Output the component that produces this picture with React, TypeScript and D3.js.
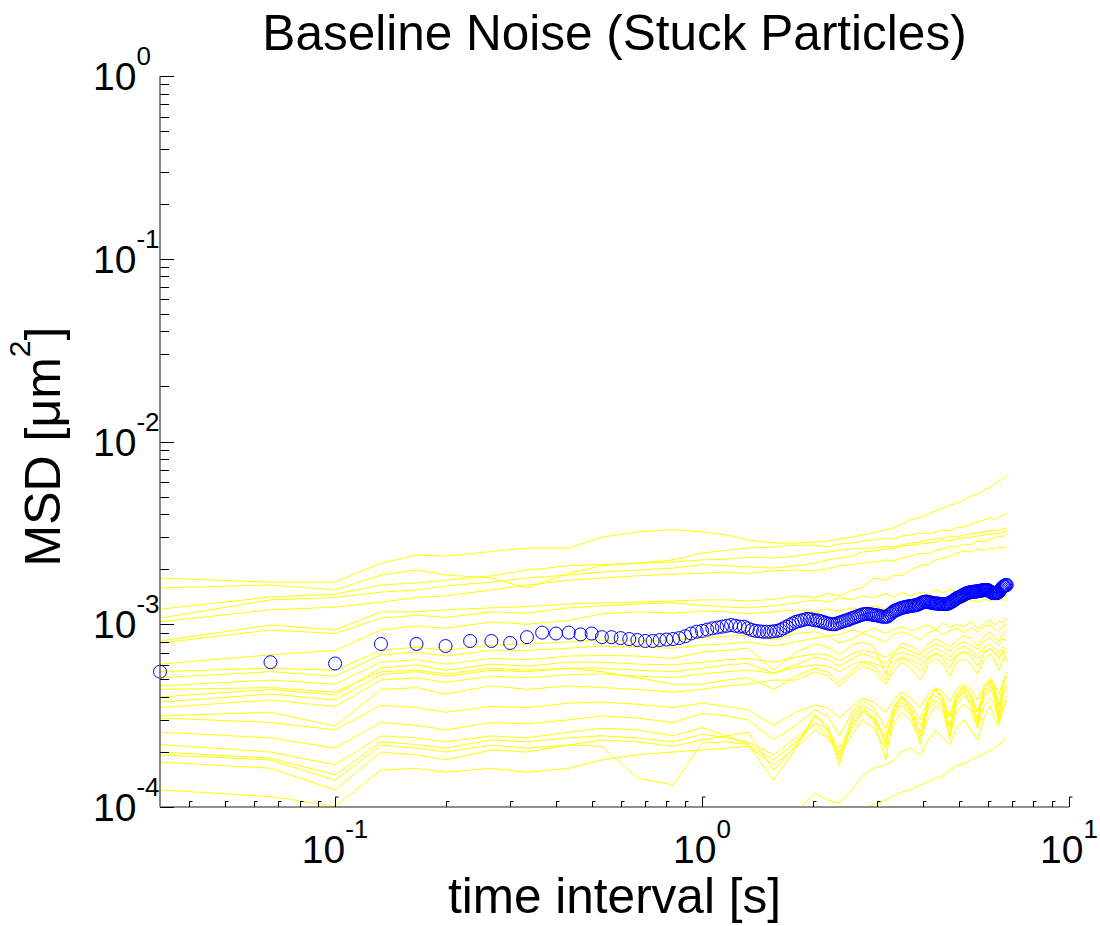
import React from "react";
import * as d3 from "d3";

// lag times are in frames, the camera ran at 30 frames per second
const FPS = 30;
// all MSD values below are in units of 1e-4 um^2
const UNIT = 1e-4;

const lagFrames = [
  1, 2, 3, 4, 5, 6, 8, 10, 13, 16, 20, 25, 30, 35, 40, 47, 54, 61, 66, 71, 77,
  82, 88, 95, 100, 105, 111, 118, 124, 130, 136, 142, 148, 155, 162, 169, 176,
  183, 188, 193, 198, 203,
];

// individual stuck particles (yellow traces)
const particle01 = [17.9, 17.0, 17.0, 21.6, 23.9, 23.6, 25.0, 26.1, 26.1, 30.0, 32.0, 32.9, 32.0, 30.8, 28.9, 27.8, 27.8, 28.2, 28.5, 29.3, 30.0, 30.8, 31.6, 32.9, 33.6, 35.3, 37.2, 38.6, 40.1, 41.7, 43.2, 44.9, 46.0, 47.9, 50.2, 51.5, 54.3, 56.3, 58.5, 60.8, 62.3, 64.8];
const particle02 = [15.8, 16.4, 15.4, 18.6, 19.8, 18.6, 17.9, 15.8, 19.0, 20.9, 21.6, 22.5, 24.5, 25.4, 26.1, 26.5, 27.1, 27.1, 26.5, 27.5, 27.8, 28.5, 28.9, 29.6, 29.3, 30.4, 30.8, 31.6, 31.2, 32.0, 32.8, 32.4, 33.7, 34.0, 35.3, 36.3, 37.2, 38.2, 37.2, 38.6, 39.6, 40.6];
const particle03 = [12.1, 14.1, 14.6, 16.4, 16.8, 17.4, 18.4, 19.8, 20.9, 21.2, 21.6, 21.9, 22.5, 22.7, 23.3, 23.0, 23.6, 24.5, 24.8, 25.4, 25.8, 26.1, 26.1, 26.8, 26.5, 27.1, 27.8, 28.2, 28.9, 29.3, 29.6, 30.4, 30.0, 30.8, 31.2, 31.6, 32.0, 32.4, 32.8, 32.4, 33.2, 33.6];
const particle04 = [10.8, 13.6, 14.0, 15.0, 15.4, 16.2, 17.0, 17.9, 18.6, 19.3, 19.8, 20.3, 21.2, 20.9, 20.6, 20.3, 20.9, 21.6, 22.5, 23.0, 23.6, 24.8, 25.2, 25.8, 26.1, 26.8, 27.1, 27.5, 27.8, 28.2, 28.9, 28.5, 29.3, 29.6, 30.0, 30.4, 30.8, 31.2, 31.6, 31.2, 32.0, 32.4];
const particle05 = [10.3, 12.0, 12.4, 13.2, 14.0, 14.3, 15.4, 16.4, 17.4, 17.9, 18.4, 18.8, 19.0, 19.3, 19.0, 19.6, 19.8, 19.6, 20.1, 20.9, 21.2, 21.6, 21.9, 22.5, 22.2, 23.0, 23.6, 24.5, 24.2, 25.4, 25.8, 26.8, 26.5, 27.5, 27.1, 28.5, 28.2, 29.3, 29.6, 30.4, 30.0, 31.2];
const particle06 = [8.1, 9.9, 9.3, 11.7, 11.7, 12.0, 12.3, 12.5, 12.9, 13.1, 13.2, 13.4, 13.6, 13.6, 13.4, 13.7, 14.3, 14.0, 14.7, 14.3, 15.4, 15.8, 17.9, 17.4, 18.6, 18.4, 19.8, 20.9, 21.3, 22.5, 23.0, 23.6, 24.5, 25.2, 24.8, 25.8, 25.4, 26.1, 25.8, 26.5, 26.1, 26.8];
const particle07 = [7.9, 9.3, 8.9, 10.8, 11.2, 10.9, 11.7, 11.5, 12.3, 12.6, 12.9, 13.1, 12.7, 12.4, 12.3, 12.6, 13.1, 13.6, 13.2, 14.0, 13.6, 14.3, 14.0, 14.7, 14.1, 14.9, 14.3, 15.0, 14.5, 15.4, 14.9, 15.6, 15.0, 14.3, 14.9, 14.1, 14.7, 14.0, 14.5, 14.1, 14.3, 14.1];
const particle08 = [6.05, 6.8, 7.2, 9.3, 9.8, 9.5, 10.3, 10.0, 10.5, 11.4, 11.7, 11.5, 11.8, 11.7, 11.4, 11.7, 12.0, 11.7, 12.1, 11.8, 12.3, 12.0, 12.6, 12.1, 12.8, 12.4, 12.9, 12.6, 13.1, 12.7, 13.2, 12.9, 13.4, 13.1, 13.6, 13.2, 13.7, 13.4, 14.0, 13.6, 13.7, 13.4];
const particle09 = [5.5, 5.75, 5.6, 7.2, 7.5, 7.2, 7.7, 7.8, 8.0, 8.2, 8.1, 8.2, 8.4, 8.6, 8.7, 8.2, 8.9, 9.1, 8.6, 8.8, 9.3, 9.0, 9.5, 8.9, 9.4, 9.7, 9.2, 9.6, 9.9, 9.3, 10.2, 9.6, 10.0, 9.7, 10.3, 9.5, 10.1, 10.6, 9.8, 10.4, 10.2, 10.8];
const particle10 = [5.1, 5.5, 5.2, 6.8, 7.05, 6.7, 7.2, 7.2, 7.4, 7.6, 7.5, 7.4, 7.7, 7.8, 8.0, 7.6, 8.0, 8.4, 8.6, 7.9, 8.3, 8.9, 8.5, 8.0, 8.8, 9.1, 8.7, 8.2, 9.0, 9.3, 8.8, 9.2, 9.5, 9.0, 9.6, 9.1, 9.7, 9.9, 9.4, 9.2, 9.8, 10.0];
const particle11 = [4.6, 4.95, 4.7, 6.2, 6.4, 6.05, 6.5, 6.4, 6.7, 6.75, 6.7, 6.5, 7.05, 7.2, 7.4, 5.6, 7.0, 7.8, 7.5, 6.8, 7.7, 8.0, 7.6, 5.3, 7.0, 7.9, 7.6, 7.0, 7.8, 8.3, 8.0, 7.5, 8.1, 8.7, 8.4, 7.6, 8.6, 9.1, 8.5, 8.0, 8.9, 9.3];
const particle12 = [4.0, 4.4, 4.1, 5.75, 6.0, 5.6, 6.05, 5.9, 6.2, 6.2, 6.05, 6.0, 6.2, 6.4, 6.5, 6.2, 6.6, 6.9, 6.8, 6.3, 6.9, 7.2, 7.0, 6.6, 7.1, 7.5, 7.1, 6.8, 7.4, 7.8, 7.5, 7.1, 7.7, 8.0, 7.7, 7.3, 8.1, 8.4, 8.0, 7.6, 8.3, 8.2];
const particle13 = [3.75, 4.15, 3.85, 5.3, 5.5, 5.2, 5.6, 5.5, 5.75, 5.75, 5.6, 5.5, 5.75, 6.0, 6.1, 5.4, 6.0, 6.6, 6.4, 5.9, 6.5, 6.9, 6.6, 6.1, 6.8, 7.0, 6.8, 6.4, 7.0, 7.4, 7.1, 6.6, 7.2, 7.6, 7.2, 6.8, 7.5, 7.8, 7.4, 7.0, 7.5, 7.2];
const particle14 = [3.5, 3.85, 3.55, 4.95, 5.1, 4.8, 5.2, 5.1, 5.3, 5.35, 5.2, 5.1, 5.35, 5.5, 5.6, 5.4, 5.8, 6.0, 5.9, 5.5, 6.0, 6.3, 6.1, 5.8, 6.3, 6.6, 6.4, 6.0, 6.6, 6.9, 6.7, 6.3, 6.8, 7.1, 6.9, 6.5, 7.1, 7.3, 7.0, 6.6, 7.0, 7.0];
const particle15 = [4.4, 4.5, 4.25, 5.5, 5.6, 5.35, 5.75, 5.6, 5.75, 5.5, 5.1, 4.7, 4.7, 4.95, 5.1, 4.4, 5.2, 5.75, 5.5, 4.8, 5.6, 6.2, 5.9, 4.95, 6.05, 6.5, 6.2, 5.5, 6.4, 6.9, 6.5, 5.75, 6.7, 7.05, 6.7, 5.9, 6.9, 7.4, 7.05, 6.4, 7.2, 6.2];
const particle16 = [3.15, 3.3, 2.77, 4.4, 4.5, 4.15, 4.6, 4.4, 4.6, 4.5, 4.4, 4.25, 4.4, 4.6, 4.7, 4.95, 4.95, 5.5, 5.2, 4.6, 5.35, 5.9, 5.6, 4.7, 5.6, 6.2, 5.75, 4.95, 6.05, 6.5, 6.05, 5.2, 6.2, 6.5, 6.05, 5.35, 6.4, 6.9, 6.4, 5.6, 6.4, 6.5];
const particle17 = [3.07, 2.9, 2.64, 3.6, 3.5, 3.3, 3.55, 3.5, 3.7, 3.75, 3.65, 3.5, 3.7, 3.55, 3.4, 2.8, 3.3, 3.6, 3.5, 3.07, 3.55, 3.95, 3.75, 3.3, 3.85, 4.25, 3.95, 3.5, 4.15, 4.5, 4.25, 3.75, 4.4, 4.7, 4.4, 3.85, 4.6, 5.1, 4.7, 4.15, 4.8, 5.5];
const particle18 = [2.57, 2.39, 2.1, 2.9, 2.8, 2.64, 2.9, 2.85, 3.0, 3.15, 3.07, 2.9, 3.25, 3.15, 3.0, 2.33, 2.8, 3.4, 3.15, 2.45, 3.3, 3.85, 3.5, 2.7, 3.55, 4.05, 3.65, 3.0, 3.85, 4.4, 3.95, 3.15, 4.15, 4.6, 4.15, 3.3, 4.4, 4.95, 4.5, 3.6, 4.6, 5.2];
const particle19 = [2.2, 2.0, 1.7, 2.45, 2.39, 2.27, 2.45, 2.39, 2.57, 2.7, 2.64, 2.45, 2.72, 2.45, 2.2, 1.4, 2.1, 3.15, 2.64, 1.7, 3.0, 3.55, 3.0, 1.81, 3.3, 4.05, 3.3, 2.2, 3.65, 4.5, 3.6, 2.39, 3.85, 4.4, 3.55, 2.77, 4.4, 4.95, 4.05, 3.0, 4.15, 4.55];
const particle20 = [2.0, 1.85, 1.5, 2.27, 2.2, 2.1, 2.33, 2.27, 2.39, 2.45, 2.39, 2.27, 2.5, 2.39, 2.27, 1.93, 2.39, 2.9, 2.64, 2.1, 2.85, 3.4, 3.07, 2.45, 3.3, 3.75, 3.4, 2.8, 3.55, 4.05, 3.75, 3.07, 3.85, 4.25, 3.95, 3.3, 4.15, 4.6, 4.25, 3.55, 4.15, 4.4];
const particle21 = [1.93, 1.81, 1.4, 2.18, 2.1, 2.0, 2.18, 2.1, 2.18, 2.15, 1.44, 1.32, 2.24, 2.27, 2.2, 1.81, 2.27, 2.85, 2.45, 2.0, 2.7, 3.3, 3.0, 2.33, 3.15, 3.6, 3.2, 2.57, 3.4, 3.85, 3.5, 2.8, 3.6, 4.05, 3.75, 3.07, 3.95, 4.4, 3.95, 3.3, 3.85, 4.05];
const particle22 = [1.76, 1.63, 1.24, 2.0, 1.93, 1.81, 2.05, 2.0, 2.18, 2.33, 2.27, 2.15, 2.33, 2.45, 2.57, 1.59, 2.18, 3.2, 2.77, 1.81, 3.15, 3.65, 3.3, 2.18, 3.5, 3.95, 3.55, 2.45, 3.85, 4.4, 3.95, 2.64, 4.05, 4.5, 4.05, 2.9, 4.4, 4.8, 4.4, 3.15, 4.4, 4.7];
const particle23 = [1.24, 1.14, 1.01, 1.59, 1.63, 1.55, 1.63, 1.55, 1.63, 1.81, 1.93, 2.0, 2.05, 2.1, 2.15, 1.7, 2.1, 2.64, 2.39, 1.93, 2.5, 3.0, 2.7, 2.1, 2.85, 3.3, 3.0, 2.33, 3.07, 3.6, 3.3, 2.45, 3.3, 3.65, 3.4, 2.7, 3.55, 3.95, 3.65, 2.9, 3.55, 3.85];
const particle24 = [0.6, 0.62, 0.58, 0.66, 0.68, 0.67, 0.7, 0.72, 0.74, 0.76, 0.78, 0.8, 0.82, 0.84, 0.86, 0.85, 0.94, 1.19, 1.09, 1.05, 1.24, 1.48, 1.63, 1.7, 1.81, 2.0, 2.1, 1.93, 2.33, 2.64, 2.39, 2.18, 2.7, 3.0, 2.64, 2.33, 3.07, 3.6, 3.07, 2.8, 3.4, 3.85];
const particle25 = [0.45, 0.47, 0.46, 0.5, 0.5, 0.52, 0.53, 0.55, 0.57, 0.6, 0.62, 0.65, 0.68, 0.7, 0.72, 0.75, 0.78, 0.8, 0.82, 0.85, 0.88, 0.98, 1.03, 1.09, 1.16, 1.21, 1.24, 1.32, 1.37, 1.44, 1.48, 1.59, 1.68, 1.72, 1.81, 1.88, 1.95, 2.05, 2.1, 2.18, 2.3, 2.39];

const particles = [
  particle01, particle02, particle03, particle04, particle05, particle06,
  particle07, particle08, particle09, particle10, particle11, particle12,
  particle13, particle14, particle15, particle16, particle17, particle18,
  particle19, particle20, particle21, particle22, particle23, particle24,
  particle25,
];

// ensemble mean, one value per lag of 1..203 frames (blue circles)
const meanMsd = [
  5.5, 6.2, 6.1, 7.8, 7.8, 7.6, 8.1, 8.1, 7.9, 8.5,
  9.0, 8.9, 9.0, 8.8, 8.9, 8.5, 8.5, 8.4, 8.3, 8.2,
  8.1, 8.1, 8.2, 8.25, 8.3, 8.4, 8.6, 8.9, 9.1, 9.2,
  9.35, 9.5, 9.6, 9.7, 9.8, 9.9, 9.8, 9.7, 9.7, 9.5,
  9.3, 9.2, 9.15, 9.1, 9.1, 9.1, 9.15, 9.2, 9.3, 9.5,
  9.7, 9.9, 10.1, 10.3, 10.4, 10.5, 10.6, 10.7, 10.65, 10.6,
  10.5, 10.5, 10.4, 10.3, 10.2, 10.1, 10.05, 10.0, 10.0, 10.1,
  10.2, 10.3, 10.4, 10.5, 10.55, 10.7, 10.8, 10.9, 11.0, 11.1,
  11.2, 11.3, 11.35, 11.4, 11.4, 11.35, 11.3, 11.25, 11.2, 11.2,
  11.1, 11.05, 11.0, 11.0, 11.0, 11.0, 11.2, 11.4, 11.6, 11.8,
  11.9, 12.0, 12.1, 12.2, 12.3, 12.35, 12.4, 12.45, 12.5, 12.55,
  12.6, 12.6, 12.65, 12.7, 12.7, 12.8, 12.9, 13.0, 13.1, 13.2,
  13.25, 13.3, 13.3, 13.25, 13.2, 13.15, 13.1, 13.05, 13.0, 13.0,
  13.0, 12.95, 12.95, 12.9, 12.9, 12.9, 12.9, 12.9, 12.9, 12.95,
  13.0, 13.1, 13.2, 13.3, 13.4, 13.55, 13.7, 13.85, 13.95, 14.0,
  14.1, 14.2, 14.3, 14.4, 14.5, 14.6, 14.7, 14.8, 14.85, 14.9,
  14.95, 15.0, 15.0, 15.05, 15.05, 15.1, 15.1, 15.1, 15.15, 15.2,
  15.2, 15.25, 15.3, 15.3, 15.35, 15.35, 15.4, 15.4, 15.4, 15.4,
  15.3, 15.2, 15.1, 15.0, 14.9, 14.8, 14.8, 14.8, 14.8, 14.8,
  14.8, 14.9, 15.0, 15.2, 15.4, 15.6, 15.8, 16.0, 16.1, 16.2,
  16.3, 16.4, 16.4,
];

const xDomain = [1 / 30, 10];
const yDomain = [1e-4, 1];

const W = 1100;
const H = 926;
const plot = { left: 160, right: 1069, top: 76, bottom: 807 };
const font = "'Liberation Sans', Arial, Helvetica, sans-serif";

const x = d3.scaleLog().domain(xDomain).range([plot.left, plot.right]);
const y = d3.scaleLog().domain(yDomain).range([plot.bottom, plot.top]);

const isDecade = (v: number) => Math.abs(Math.log10(v) - Math.round(Math.log10(v))) < 1e-9;

const line = d3
  .line<number>()
  .x((_, i) => x(lagFrames[i] / FPS))
  .y((v) => y(v * UNIT));

const Power = ({ exp, ...rest }: any) => (
  <text {...rest}>
    <tspan>10</tspan>
    <tspan dy={-25} fontSize={26}>{exp}</tspan>
  </text>
);

export default function App() {
  const xTicks = x.ticks().filter((t) => t >= xDomain[0] && t <= xDomain[1] * 1.0001);
  const yTicks = y.ticks();

  return (
    <div style={{ position: "absolute", left: 0, top: 0 }}>
      <svg width={W} height={H} style={{ display: "block", background: "#fff" }} fontFamily={font}>
        <defs>
          <clipPath id="plotArea">
            <rect x={plot.left} y={plot.top} width={plot.right - plot.left} height={plot.bottom - plot.top} />
          </clipPath>
        </defs>

        <g clipPath="url(#plotArea)">
          {particles.map((p, i) => (
            <path key={i} d={line(p) ?? ""} fill="none" stroke="#ffff00" strokeWidth={1} />
          ))}
        </g>
        {/* markers are not clipped, only their centres lie inside the axes */}
        <g>
          {meanMsd.map((v, i) => (
            <circle key={i} cx={x((i + 1) / FPS)} cy={y(v * UNIT)} r={6.5} fill="none" stroke="#0000ff" strokeWidth={1} />
          ))}
        </g>

        {/* axes, ticks pointing inward like MATLAB */}
        <line x1={plot.left} x2={plot.left} y1={plot.top} y2={plot.bottom} stroke="#6a6a6a" strokeWidth={1.6} />
        <line x1={plot.left} x2={plot.right} y1={plot.bottom} y2={plot.bottom} stroke="#6a6a6a" strokeWidth={1.6} />

        {yTicks.map((t, i) => {
          const yy = Math.round(y(t)) + 0.5;
          const len = isDecade(t) ? 14 : 9;
          return <line key={i} x1={plot.left} x2={plot.left + len} y1={yy} y2={yy} stroke="#000" strokeWidth={1} />;
        })}
        {xTicks.map((t, i) => {
          const xx = Math.round(x(t)) + 0.5;
          const len = isDecade(t) ? 10 : 5.5;
          return (
            <path
              key={i}
              d={`M${xx},${plot.bottom} V${plot.bottom - len} H${xx + 3}`}
              fill="none"
              stroke="#000"
              strokeWidth={1}
            />
          );
        })}

        {yTicks.filter(isDecade).map((t) => (
          <Power key={t} exp={Math.round(Math.log10(t))} x={93} y={y(t) + 14} fontSize={39} fill="#000" />
        ))}
        {xTicks.filter(isDecade).map((t) => (
          <Power key={t} exp={Math.round(Math.log10(t))} x={x(t)} y={863} fontSize={39} textAnchor="middle" fill="#000" />
        ))}

        <text x={(plot.left + plot.right) / 2} y={50} fontSize={49.5} textAnchor="middle" fill="#000">
          Baseline Noise (Stuck Particles)
        </text>
        <text x={(plot.left + plot.right) / 2} y={913} fontSize={49.5} textAnchor="middle" fill="#000">
          time interval [s]
        </text>
        <text transform={`translate(60,${(plot.top + plot.bottom) / 2 + 5}) rotate(-90)`} fontSize={50} textAnchor="middle" fill="#000">
          <tspan>MSD [μm</tspan>
          <tspan dy={-30} fontSize={30}>2</tspan>
          <tspan dy={30}>]</tspan>
        </text>
      </svg>
    </div>
  );
}
